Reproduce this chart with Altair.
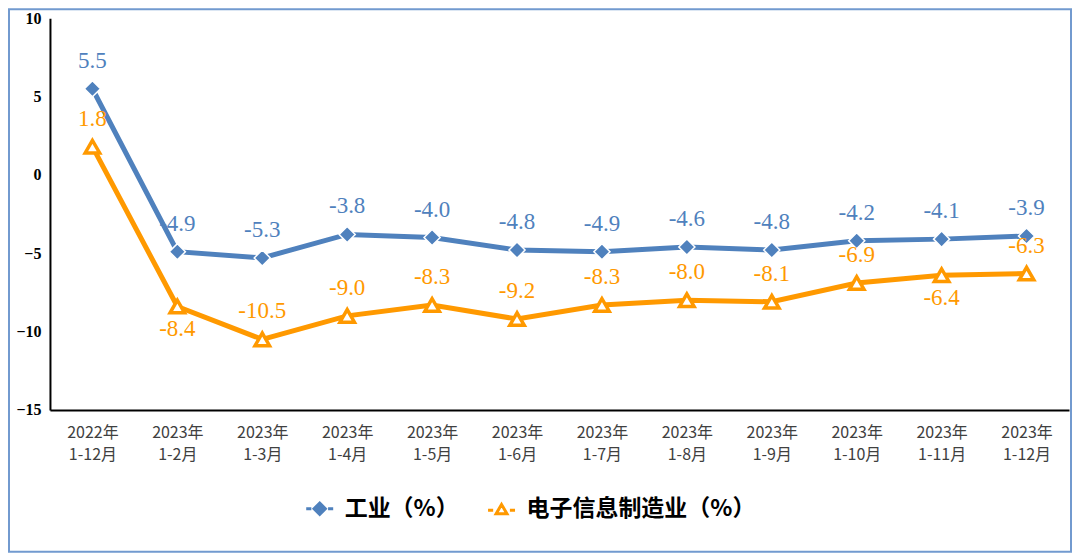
import altair as alt
import pandas as pd

categories = ["2022年|1-12月", "2023年|1-2月", "2023年|1-3月", "2023年|1-4月",
              "2023年|1-5月", "2023年|1-6月", "2023年|1-7月", "2023年|1-8月",
              "2023年|1-9月", "2023年|1-10月", "2023年|1-11月", "2023年|1-12月"]
industry = [5.5, -4.9, -5.3, -3.8, -4.0, -4.8, -4.9, -4.6, -4.8, -4.2, -4.1, -3.9]
electronics = [1.8, -8.4, -10.5, -9.0, -8.3, -9.2, -8.3, -8.0, -8.1, -6.9, -6.4, -6.3]
electronics_label_below = ["2023年|1-2月", "2023年|1-11月"]
series_names = ["工业（%）", "电子信息制造业（%）"]
colors = ["#4F81BD", "#FF9900"]

rows = []
for s, vals in zip(series_names, [industry, electronics]):
    for c, v in zip(categories, vals):
        rows.append({"cat": c, "series": s, "value": v, "label": f"{v:.1f}",
                     "below": (s == series_names[1] and c in electronics_label_below)})
df = pd.DataFrame(rows)

x = alt.X("cat:N", sort=categories,
          scale=alt.Scale(type="point", padding=0.5),
          axis=alt.Axis(title=None, labelAngle=0, labelExpr="split(datum.label, '|')",
                        labelFont="Noto Sans CJK SC", labelFontSize=16, labelColor="#404040",
                        labelLineHeight=22, labelPadding=15, ticks=False,
                        domainColor="black", domainWidth=2, grid=False))
y = alt.Y("value:Q", scale=alt.Scale(domain=[-15, 10], nice=False, zero=False),
          axis=alt.Axis(title=None, values=[-15, -10, -5, 0, 5, 10], ticks=False,
                        labelFont="Liberation Serif", labelFontWeight="bold", labelFontSize=16,
                        labelColor="black", labelPadding=9,
                        domainColor="black", domainWidth=2, grid=False))

base = alt.Chart(df).encode(x=x, y=y)
s1 = alt.datum.series == series_names[0]
s2 = alt.datum.series == series_names[1]

blue_line = base.transform_filter(s1).mark_line(color=colors[0], strokeWidth=5)
blue_pts = base.transform_filter(s1).mark_point(shape="diamond", filled=True, size=260,
                                                 fill=colors[0], stroke="white", strokeWidth=1.5,
                                                 opacity=1)
blue_txt = base.transform_filter(s1).mark_text(dy=-28, font="Liberation Serif", fontSize=23,
                                                color=colors[0]).encode(text="label:N")

orange_line = base.transform_filter(s2).mark_line(color=colors[1], strokeWidth=5)
orange_pts = base.transform_filter(s2).mark_point(shape="triangle-up", filled=True, size=210,
                                                   fill="white", stroke=colors[1], strokeWidth=3.5,
                                                   opacity=1)
orange_txt_up = base.transform_filter(s2).transform_filter("!datum.below").mark_text(
    dy=-28, font="Liberation Serif", fontSize=23, color=colors[1]).encode(text="label:N")
orange_txt_dn = base.transform_filter(s2).transform_filter("datum.below").mark_text(
    dy=23, font="Liberation Serif", fontSize=23, color=colors[1]).encode(text="label:N")

path_blue = "M-1,0L-0.62,0M0.62,0L1,0M0,-0.42L0.42,0L0,0.42L-0.42,0Z"
path_orange = "M-1,0.1L-0.62,0.1M0.62,0.1L1,0.1M0,-0.32L0.4,0.36L-0.4,0.36Z"

leg = alt.Legend(title=None, orient="none", legendX=255, legendY=476, direction="horizontal",
                 labelFont="Noto Sans CJK SC", labelFontSize=23, labelFontWeight="bold",
                 labelColor="black", symbolSize=729, symbolStrokeWidth=3, symbolOpacity=1,
                 columnPadding=22, labelOffset=10, labelLimit=0)
legend_layer = base.transform_filter("false").mark_point(filled=True, opacity=1).encode(
    shape=alt.Shape("series:N", scale=alt.Scale(domain=series_names, range=[path_blue, path_orange]), legend=leg),
    fill=alt.Fill("series:N", scale=alt.Scale(domain=series_names, range=[colors[0], "white"]), legend=leg),
    stroke=alt.Stroke("series:N", scale=alt.Scale(domain=series_names, range=colors), legend=leg),
)

border = alt.Chart(alt.Data(values=[{}])).mark_rect(fill=None, stroke="#729ACF", strokeWidth=2).encode(
    x=alt.value(-41), x2=alt.value(1020 + 2), y=alt.value(-9), y2=alt.value(392 + 142))

chart = alt.layer(border, blue_line, blue_pts, blue_txt, orange_line, orange_pts,
                  orange_txt_up, orange_txt_dn, legend_layer).properties(
    width=1020, height=392,
    padding={"left": 42, "top": 10, "right": 3, "bottom": 144},
    autosize="none",
).configure_view(stroke=None)

chart.save("out.html", embed_options={"renderer": "svg", "actions": False})
